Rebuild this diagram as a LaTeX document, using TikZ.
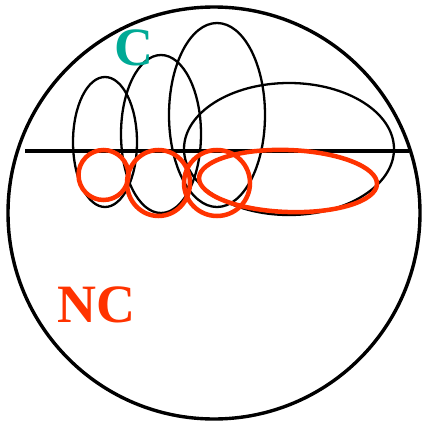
\documentclass[tikz,border=0pt]{standalone}
\usepackage{fontspec}
\setmainfont{Liberation Serif}
\usepackage{xcolor}
\definecolor{cteal}{RGB}{0,170,150}
\definecolor{ncred}{RGB}{255,51,0}
\tikzset{
  outer/.style={line width=3.4pt},
  cset/.style={line width=2.3pt},
  ncset/.style={draw=ncred,line width=4.5pt},
  lbl/.style={font=\bfseries\fontsize{54}{54}\selectfont,inner sep=0pt}
}

\begin{document}
\begin{tikzpicture}[x=1pt,y=-1pt]
        \useasboundingbox (0,0) rectangle (422,423);
        \draw[outer] (214,213) circle (206);
        \draw[outer] (25,151) -- (409,151);
        % black ellipses
        \draw[cset] (105,142) ellipse (32 and 65);
        \draw[cset] (161,134) ellipse (40 and 79);
        \draw[cset] (217,115) ellipse (48 and 92);
        \draw[cset] (289,149) ellipse (105 and 66);
        % red ellipses
        \draw[ncset] (103.5,175) circle (25);
        \draw[ncset] (158.5,183) ellipse (31.5 and 33);
        \draw[ncset] (217,183) ellipse (33 and 33);
        \draw[ncset,rotate around={-2:(288,181)}] (288,181) ellipse (89 and 31);
        \node[lbl,text=cteal,anchor=south west] (c) at (114,66) {C};
        \node[lbl,text=ncred,anchor=south west] (nc) at (57,323) {NC};
\end{tikzpicture}
\end{document}
